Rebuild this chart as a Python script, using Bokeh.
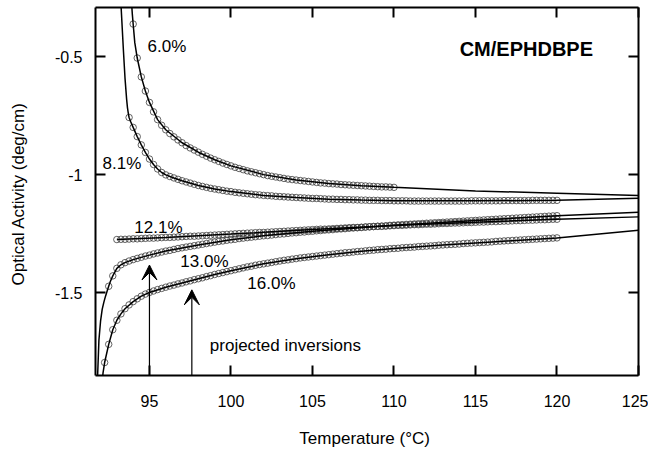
from bokeh.plotting import figure
from bokeh.models import LinearAxis, FixedTicker, Range1d, Label, Arrow, VeeHead
from bokeh.embed import file_html
from bokeh.resources import INLINE

# ---------------- data ----------------
T_GRID = [92.0, 92.25, 92.5, 92.75, 93.0, 93.25, 93.5, 93.75, 94.0, 94.25, 94.5, 94.75,
          95.0, 95.25, 95.5, 95.75, 96.0, 96.25, 96.5, 96.75, 97.0, 97.25, 97.5, 97.75,
          98.0, 98.25, 98.5, 98.75, 99.0, 99.25, 99.5, 99.75, 100.0, 100.25, 100.5, 100.75,
          101.0, 101.25, 101.5, 101.75, 102.0, 102.25, 102.5, 102.75, 103.0, 103.25, 103.5, 103.75,
          104.0, 104.25, 104.5, 104.75, 105.0, 105.25, 105.5, 105.75, 106.0, 106.25, 106.5, 106.75,
          107.0, 107.25, 107.5, 107.75, 108.0, 108.25, 108.5, 108.75, 109.0, 109.25, 109.5, 109.75,
          110.0, 110.25, 110.5, 110.75, 111.0, 111.25, 111.5, 111.75, 112.0, 112.25, 112.5, 112.75,
          113.0, 113.25, 113.5, 113.75, 114.0, 114.25, 114.5, 114.75, 115.0, 115.25, 115.5, 115.75,
          116.0, 116.25, 116.5, 116.75, 117.0, 117.25, 117.5, 117.75, 118.0, 118.25, 118.5, 118.75,
          119.0, 119.25, 119.5, 119.75, 120.0]

# measured optical activity (deg/cm), one list per concentration
Y_060 = [-0.361, -0.505, -0.585, -0.645,
         -0.693, -0.733, -0.766, -0.790,
         -0.809, -0.825, -0.839, -0.852,
         -0.864, -0.876, -0.886, -0.895,
         -0.904, -0.913, -0.921, -0.929,
         -0.936, -0.943, -0.950, -0.956,
         -0.962, -0.968, -0.973, -0.978,
         -0.983, -0.987, -0.991, -0.995,
         -0.999, -1.003, -1.006, -1.009,
         -1.012, -1.015, -1.018, -1.020,
         -1.022, -1.024, -1.026, -1.028,
         -1.030, -1.032, -1.034, -1.035,
         -1.037, -1.038, -1.039, -1.041,
         -1.042, -1.043, -1.044, -1.045,
         -1.046, -1.047, -1.048, -1.049,
         -1.050, -1.051, -1.051, -1.052,
         -1.053]
START_060 = 94.0

Y_081 = [-0.757,
         -0.799, -0.838, -0.873, -0.905,
         -0.933, -0.956, -0.975, -0.990,
         -1.000, -1.007, -1.013, -1.019,
         -1.025, -1.030, -1.035, -1.040,
         -1.045, -1.049, -1.053, -1.057,
         -1.060, -1.063, -1.066, -1.069,
         -1.071, -1.074, -1.076, -1.078,
         -1.080, -1.082, -1.084, -1.085,
         -1.087, -1.088, -1.089, -1.091,
         -1.092, -1.093, -1.094, -1.095,
         -1.096, -1.097, -1.098, -1.099,
         -1.100, -1.100, -1.101, -1.102,
         -1.103, -1.103, -1.104, -1.104,
         -1.105, -1.105, -1.106, -1.106,
         -1.107, -1.107, -1.108, -1.108,
         -1.108, -1.109, -1.109, -1.109,
         -1.110, -1.110, -1.110, -1.110,
         -1.111, -1.111, -1.111, -1.111,
         -1.111, -1.111, -1.111, -1.111,
         -1.111, -1.111, -1.111, -1.111,
         -1.111, -1.111, -1.111, -1.110,
         -1.110, -1.110, -1.110, -1.110,
         -1.110, -1.110, -1.110, -1.109,
         -1.109, -1.109, -1.109, -1.109,
         -1.109, -1.109, -1.108, -1.108,
         -1.108, -1.108, -1.108, -1.108,
         -1.108]
START_081 = 93.75

Y_121 = [-1.274, -1.273, -1.273, -1.272,
         -1.271, -1.271, -1.270, -1.269,
         -1.268, -1.268, -1.267, -1.266,
         -1.265, -1.265, -1.264, -1.263,
         -1.262, -1.261, -1.260, -1.260,
         -1.259, -1.258, -1.257, -1.256,
         -1.255, -1.254, -1.253, -1.252,
         -1.251, -1.250, -1.249, -1.248,
         -1.247, -1.246, -1.245, -1.244,
         -1.244, -1.243, -1.242, -1.241,
         -1.240, -1.239, -1.238, -1.237,
         -1.236, -1.235, -1.234, -1.233,
         -1.232, -1.231, -1.230, -1.230,
         -1.229, -1.228, -1.227, -1.226,
         -1.225, -1.224, -1.223, -1.223,
         -1.222, -1.221, -1.220, -1.219,
         -1.218, -1.218, -1.217, -1.216,
         -1.215, -1.214, -1.214, -1.213,
         -1.212, -1.211, -1.211, -1.210,
         -1.209, -1.209, -1.208, -1.207,
         -1.206, -1.206, -1.205, -1.204,
         -1.204, -1.203, -1.202, -1.202,
         -1.201, -1.200, -1.200, -1.199,
         -1.198, -1.198, -1.197, -1.196,
         -1.196, -1.195, -1.194, -1.194,
         -1.193, -1.192, -1.192, -1.191,
         -1.190, -1.190, -1.189, -1.188,
         -1.188]
START_121 = 93.0

Y_130 = [-1.472, -1.428,
         -1.396, -1.381, -1.372, -1.365,
         -1.359, -1.354, -1.349, -1.344,
         -1.340, -1.335, -1.331, -1.327,
         -1.323, -1.320, -1.316, -1.312,
         -1.309, -1.306, -1.303, -1.300,
         -1.297, -1.294, -1.291, -1.288,
         -1.285, -1.282, -1.280, -1.277,
         -1.275, -1.273, -1.270, -1.268,
         -1.266, -1.264, -1.262, -1.260,
         -1.258, -1.257, -1.255, -1.253,
         -1.251, -1.250, -1.248, -1.246,
         -1.245, -1.243, -1.242, -1.240,
         -1.239, -1.237, -1.236, -1.234,
         -1.233, -1.232, -1.230, -1.229,
         -1.228, -1.226, -1.225, -1.224,
         -1.223, -1.221, -1.220, -1.219,
         -1.218, -1.217, -1.216, -1.214,
         -1.213, -1.212, -1.211, -1.210,
         -1.209, -1.208, -1.207, -1.206,
         -1.205, -1.204, -1.203, -1.202,
         -1.201, -1.200, -1.199, -1.198,
         -1.197, -1.196, -1.195, -1.194,
         -1.193, -1.192, -1.191, -1.190,
         -1.189, -1.188, -1.187, -1.186,
         -1.185, -1.184, -1.183, -1.182,
         -1.181, -1.180, -1.179, -1.178,
         -1.177, -1.176, -1.175, -1.174,
         -1.173]
START_130 = 92.5

Y_160 = [-1.795, -1.718, -1.656,
         -1.616, -1.589, -1.567, -1.551,
         -1.537, -1.525, -1.514, -1.505,
         -1.498, -1.492, -1.486, -1.481,
         -1.476, -1.471, -1.467, -1.462,
         -1.458, -1.453, -1.449, -1.444,
         -1.440, -1.436, -1.431, -1.427,
         -1.422, -1.418, -1.414, -1.410,
         -1.406, -1.402, -1.398, -1.394,
         -1.390, -1.387, -1.383, -1.380,
         -1.377, -1.374, -1.371, -1.368,
         -1.365, -1.362, -1.360, -1.357,
         -1.355, -1.352, -1.350, -1.348,
         -1.346, -1.344, -1.342, -1.340,
         -1.338, -1.336, -1.334, -1.332,
         -1.330, -1.329, -1.327, -1.325,
         -1.324, -1.322, -1.320, -1.319,
         -1.317, -1.316, -1.315, -1.313,
         -1.312, -1.311, -1.309, -1.308,
         -1.307, -1.306, -1.304, -1.303,
         -1.302, -1.301, -1.300, -1.298,
         -1.297, -1.296, -1.295, -1.294,
         -1.293, -1.291, -1.290, -1.289,
         -1.288, -1.287, -1.286, -1.285,
         -1.284, -1.282, -1.281, -1.280,
         -1.279, -1.278, -1.277, -1.276,
         -1.275, -1.274, -1.273, -1.272,
         -1.271, -1.270, -1.269, -1.268,
         -1.267]
START_160 = 92.25

# fitted curves
FIT_060_T = [93.85, 93.9, 93.95, 94.0, 94.1, 94.25, 94.5, 94.75, 95.0, 95.5, 96.0, 97.0, 98.0,
             99.0, 100.0, 102.0, 104.0, 106.0, 108.0, 110.0, 115.0, 120.0, 125.0]
FIT_060_Y = [-0.22, -0.27, -0.32, -0.361, -0.44, -0.505, -0.585, -0.645, -0.693, -0.766, -0.809,
             -0.864, -0.904, -0.936, -0.962, -0.999, -1.022, -1.037, -1.046, -1.053, -1.068,
             -1.078, -1.087]
FIT_081_T = [93.2, 93.3, 93.4, 93.5, 93.6, 93.65, 93.7, 93.75, 93.85, 94.0, 94.25, 94.5, 94.75,
             95.0, 95.25, 95.5, 95.75, 96.0, 96.5, 97.0, 98.0, 99.0, 100.0, 102.0, 104.0, 106.0,
             108.0, 110.0, 115.0, 120.0, 125.0]
FIT_081_Y = [-0.21, -0.34, -0.47, -0.59, -0.68, -0.715, -0.738, -0.757, -0.775, -0.799, -0.838,
             -0.873, -0.905, -0.933, -0.956, -0.975, -0.990, -1.000, -1.013, -1.025, -1.045,
             -1.060, -1.071, -1.087, -1.096, -1.103, -1.107, -1.110, -1.110, -1.108, -1.099]
FIT_121_T = [93.0, 96.0, 100.0, 105.0, 110.0, 115.0, 120.0, 125.0]
FIT_121_Y = [-1.274, -1.265, -1.251, -1.232, -1.215, -1.201, -1.188, -1.178]
FIT_130_T = [91.78, 91.82, 91.9, 92.0, 92.1, 92.2, 92.3, 92.4, 92.5, 92.6, 92.75, 93.0, 93.25,
             93.5, 94.0, 95.0, 96.0, 98.0, 100.0, 102.0, 105.0, 110.0, 115.0, 120.0, 125.0]
FIT_130_Y = [-1.92, -1.85, -1.70, -1.62, -1.57, -1.54, -1.515, -1.493, -1.472, -1.452, -1.428,
             -1.396, -1.381, -1.372, -1.359, -1.340, -1.323, -1.297, -1.275, -1.258, -1.239,
             -1.213, -1.193, -1.173, -1.158]
FIT_160_T = [92.05, 92.15, 92.25, 92.5, 92.75, 93.0, 93.25, 93.5, 94.0, 94.5, 95.0, 96.0, 97.0,
             98.0, 99.0, 100.0, 102.0, 104.0, 106.0, 108.0, 110.0, 113.0, 116.0, 120.0, 125.0]
FIT_160_Y = [-1.93, -1.84, -1.795, -1.718, -1.656, -1.616, -1.589, -1.567, -1.537, -1.514,
             -1.498, -1.476, -1.458, -1.440, -1.422, -1.406, -1.377, -1.355, -1.338, -1.324,
             -1.312, -1.297, -1.284, -1.267, -1.235]

SERIES_NAMES = ["6.0%", "8.1%", "12.1%", "13.0%", "16.0%"]

# projected inversion temperatures and arrow tips
INVERSION_T = [95.0, 97.6]
INVERSION_TIP = [-1.382, -1.487]

X_TICKS = [95, 100, 105, 110, 115, 120, 125]
Y_TICKS = [-1.5, -1.0, -0.5]
Y_TICK_LABELS = ["-1.5", "-1", "-0.5"]

# ---------------- figure ----------------
X_MIN, X_MAX = 91.69, 125.0
Y_MIN, Y_MAX = -1.85, -0.291
FONT = "Liberation Sans"

p = figure(width=648, height=450, output_backend="svg", toolbar_location=None,
           x_range=Range1d(X_MIN, X_MAX), y_range=Range1d(Y_MIN, Y_MAX),
           min_border_left=95, min_border_right=10, min_border_top=7, min_border_bottom=73,
           x_axis_label="Temperature  (°C)", y_axis_label="Optical Activity  (deg/cm)")
p.grid.visible = False
p.outline_line_color = None
p.background_fill_color = "white"
p.border_fill_color = "white"

bottom_axis = p.below[0]
left_axis = p.left[0]

bottom_axis.ticker = FixedTicker(ticks=X_TICKS)
left_axis.ticker = FixedTicker(ticks=Y_TICKS)
left_axis.major_label_overrides = {t: s for t, s in zip(Y_TICKS, Y_TICK_LABELS)}

top_axis = LinearAxis(ticker=FixedTicker(ticks=X_TICKS))
right_axis = LinearAxis(ticker=FixedTicker(ticks=Y_TICKS))
p.add_layout(top_axis, "above")
p.add_layout(right_axis, "right")

for ax in [bottom_axis, left_axis, top_axis, right_axis]:
    ax.axis_line_width = 2
    ax.axis_line_color = "black"
    ax.major_tick_in = 10
    ax.major_tick_out = 0
    ax.major_tick_line_width = 2
    ax.major_tick_line_color = "black"
    ax.minor_tick_line_color = None
    ax.major_label_text_font = FONT
    ax.major_label_text_font_size = "16px"
    ax.major_label_text_color = "black"
    ax.axis_label_text_font = FONT
    ax.axis_label_text_font_size = "17px"
    ax.axis_label_text_font_style = "normal"
    ax.axis_label_text_color = "black"

for ax in [top_axis, right_axis]:
    ax.major_label_text_font_size = "0px"
    ax.major_label_standoff = 0
    ax.major_label_text_alpha = 0

bottom_axis.major_label_standoff = 19
bottom_axis.axis_label_standoff = 19
left_axis.major_label_standoff = 13
left_axis.axis_label_standoff = 24

def grid_slice(start, n):
    i = T_GRID.index(start)
    return T_GRID[i:i + n]

series = [(START_060, Y_060), (START_081, Y_081), (START_121, Y_121),
          (START_130, Y_130), (START_160, Y_160)]
for start, ys in series:
    p.scatter(grid_slice(start, len(ys)), ys, marker="circle", size=6.5,
              fill_color=None, line_color="#3c3c3c", line_width=0.8)

for tx, ty in [(FIT_060_T, FIT_060_Y), (FIT_081_T, FIT_081_Y), (FIT_121_T, FIT_121_Y),
               (FIT_130_T, FIT_130_Y), (FIT_160_T, FIT_160_Y)]:
    p.line(tx, ty, line_color="black", line_width=1.5)

for t, tip in zip(INVERSION_T, INVERSION_TIP):
    p.add_layout(Arrow(end=VeeHead(size=15, fill_color="black", line_color="black"),
                       x_start=t, y_start=Y_MIN, x_end=t, y_end=tip,
                       line_color="black", line_width=1.2))

label_pos = [(96.07, -0.455), (93.31, -0.952), (95.55, -1.221), (98.37, -1.368), (102.48, -1.46)]
for name, (lx, ly) in zip(SERIES_NAMES, label_pos):
    p.add_layout(Label(x=lx, y=ly, text=name, text_font=FONT, text_font_size="17px",
                       text_align="center", text_baseline="middle", text_color="black"))

p.add_layout(Label(x=103.34, y=-1.725, text="projected inversions", text_font=FONT,
                   text_font_size="17px", text_align="center", text_baseline="middle",
                   text_color="black"))
p.add_layout(Label(x=118.12, y=-0.468, text="CM/EPHDBPE", text_font=FONT,
                   text_font_size="20px", text_font_style="bold", text_align="center",
                   text_baseline="middle", text_color="black"))

open("out.html", "w").write(file_html(p, INLINE))
